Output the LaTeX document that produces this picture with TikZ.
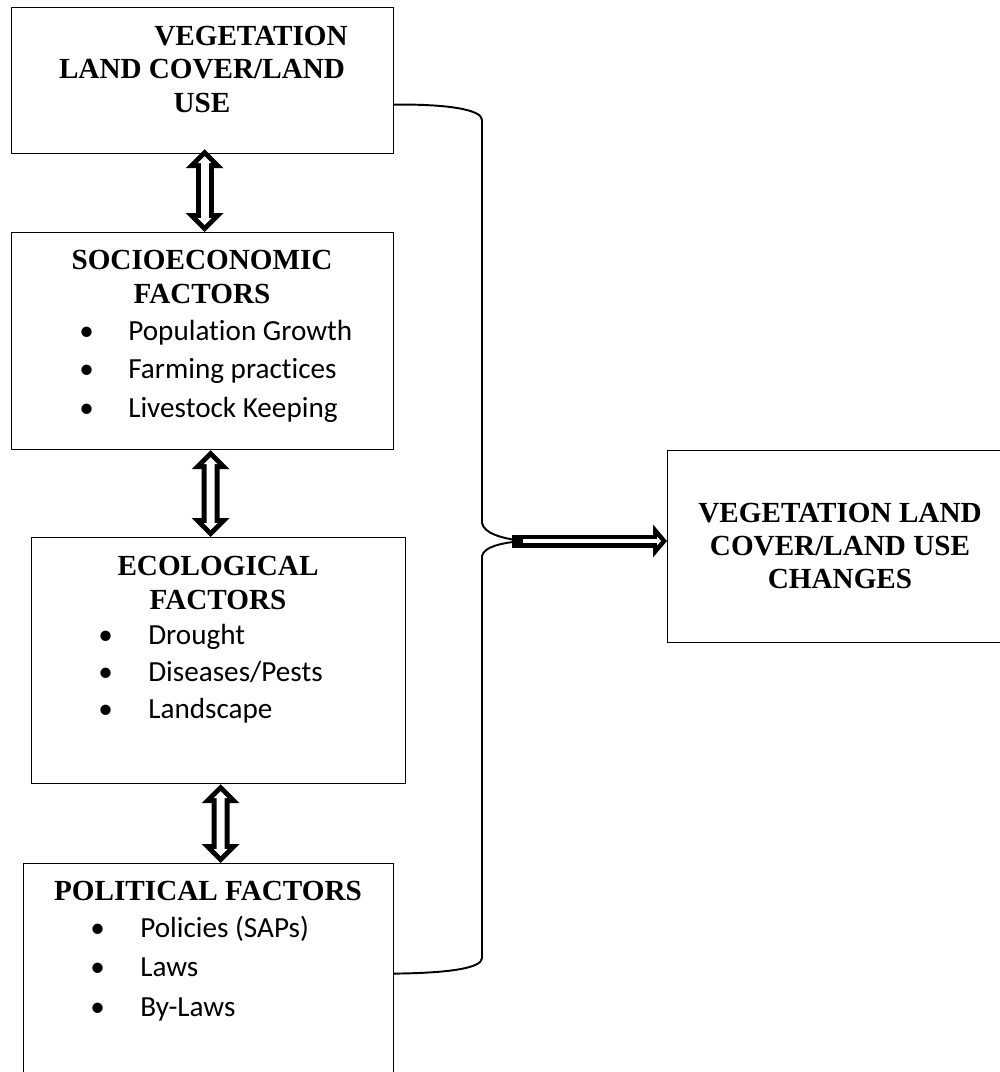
\documentclass[tikz,border=0pt]{standalone}
\usepackage{fontspec}
\setmainfont{Liberation Serif}
\newfontfamily\calibri[Ligatures=NoCommon]{Carlito}
\usetikzlibrary{arrows.meta}
\tikzset{
  box/.style={draw,line width=0.7pt,inner sep=0pt,anchor=north west},
  title/.style={font=\bfseries\fontsize{16.6}{19}\selectfont,anchor=base,inner sep=0pt},
  point/.style={font=\calibri\fontsize{16.6}{19}\selectfont,anchor=base west,inner sep=0pt},
  brace/.style={draw,line width=1.1pt},
  updown/.style={line width=0.36cm,
    {Triangle[length=0.38cm,width=0.76cm,line width=0pt]}-{Triangle[length=0.38cm,width=0.76cm,line width=0pt]},
    postaction={draw=white,line width=0.16cm,shorten <=0.14cm,shorten >=0.14cm,
      {Triangle[length=0.14cm,width=0.28cm,line width=0pt]}-{Triangle[length=0.14cm,width=0.28cm,line width=0pt]}}},
  fatarrow/.style={line width=0.26cm,
    -{Triangle[length=0.28cm,width=0.66cm,line width=0pt]},
    postaction={draw=white,line width=0.08cm,shorten <=0.22cm,shorten >=0.12cm,
      -{Triangle[length=0.08cm,width=0.18cm,line width=0pt]}}}
}

\begin{document}
\begin{tikzpicture}[x=0.02cm,y=-0.02cm]
  \useasboundingbox (0,0) rectangle (1000,1072);
  \clip (0,0) rectangle (1000,1072);
  % boxes
  \node[box,minimum width=7.64cm,minimum height=2.92cm] (veg) at (11,7) {};
  \node[box,minimum width=7.64cm,minimum height=4.34cm] (soc) at (11,232) {};
  \node[box,minimum width=7.48cm,minimum height=4.92cm] (eco) at (31,537) {};
  \node[box,minimum width=7.4cm,minimum height=4.4cm] (pol) at (23,863) {};
  \node[box,minimum width=6.92cm,minimum height=3.84cm] (change) at (667,450) {};
  % titles
  \node[title] (vegA) at (251,45) {VEGETATION};
  \node[title] (vegB) at (202,78) {LAND COVER/LAND};
  \node[title] (vegC) at (202,112) {USE};
  \node[title] (socA) at (202,269) {SOCIOECONOMIC};
  \node[title] (socB) at (202,303) {FACTORS};
  \node[title] (ecoA) at (218,575) {ECOLOGICAL};
  \node[title] (ecoB) at (218,609) {FACTORS};
  \node[title] (polA) at (208,900) {POLITICAL FACTORS};
  \node[title] (chA) at (840,522) {VEGETATION LAND};
  \node[title] (chB) at (840,555) {COVER/LAND USE};
  \node[title] (chC) at (840,588) {CHANGES};
  % bullet points
  \foreach \txt [count=\i from 0] in {Population Growth,Farming practices,Livestock Keeping}
    \node[point] (soc\i) at (79,340+38.5*\i) {\makebox[0.98cm][l]{•}\txt};
  \foreach \txt [count=\i from 0] in {Drought,Diseases/Pests,Landscape}
    \node[point] (eco\i) at (98,644+37*\i) {\makebox[1cm][l]{•}\txt};
  \foreach \txt [count=\i from 0] in {Policies (SAPs),Laws,By-Laws}
    \node[point] (pol\i) at (90,937+39.5*\i) {\makebox[1cm][l]{•}\txt};
  % links between the factors
  \draw[updown] ([xshift=0.04cm,yshift=0.1cm]veg.south) -- ([xshift=0.04cm]soc.north);
  \draw[updown] ([xshift=0.16cm]soc.south) -- ([xshift=-0.16cm]eco.north);
  \draw[updown] ([xshift=0.04cm]eco.south) -- ([xshift=0.24cm]pol.north);
  % brace and result
  \coordinate (join) at (522,541);
  \draw[brace] ([yshift=-0.48cm]veg.east) .. controls (450,104) and (482,110) .. (482,120)
    -- (482,523) .. controls (484,533) and (500,538) .. (join);
  \draw[brace] (pol.east) .. controls (450,973) and (482,968) .. (482,958)
    -- (482,556) .. controls (484,547) and (500,543) .. (join);
  \draw[fatarrow] ([xshift=-0.2cm]join) -- (join -| change.west);
\end{tikzpicture}
\end{document}
